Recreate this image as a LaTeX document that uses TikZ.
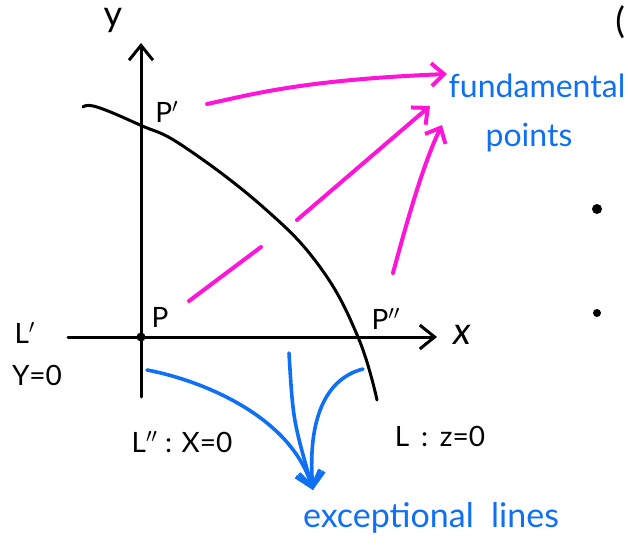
\documentclass[tikz,border=0pt]{standalone}
\usepackage{fontspec}
\setmainfont{Lato}
\usepackage{xcolor}
\usepackage{tikz}
\usetikzlibrary{arrows.meta,positioning,calc}
\definecolor{pinkish}{HTML}{FF14D8}
\definecolor{penblue}{HTML}{0F70F5}

\begin{document}
\begin{tikzpicture}[x=0.5pt,y=-0.5pt,
      every node/.style={font=\fontsize{14}{16}\selectfont,inner sep=1pt},
      axis/.style={-{Straight Barb[length=2.6mm,width=4.2mm]}, line width=1.5pt, line cap=round},
      curveline/.style={line width=1.5pt, line cap=round},
      pinkline/.style={pinkish, line width=2pt, line cap=round},
      pinkarr/.style={pinkline, -{Straight Barb[length=2.2mm,width=4mm]}},
      bluearr/.style={penblue, line width=1.8pt, line cap=round, -{Straight Barb[length=2.6mm,width=4.4mm]}},
      bluetext/.style={text=penblue,font=\fontsize{16}{18}\selectfont}
  ]
    \useasboundingbox (0,0) rectangle (628,547);

    \coordinate (ybot) at (141,397);
    \coordinate (ytip) at (141,43);
    \coordinate (xleft) at (68,337);
    \coordinate (xtip) at (437,337);
    \coordinate (P) at (141,337);

    \draw[axis] (ybot) -- (ytip);
    \draw[axis] (xleft) -- (xtip);
    \fill (P) circle (4.5);

    \draw[curveline] plot[smooth,tension=0.7] coordinates
      {(83,107) (97,107) (140,125) (183,146) (263,207) (320,267) (358,337) (377,400)};

    \node (ylab) at (113,20) {\fontsize{18}{18}\selectfont y};
    \node (xlab) at (462,335) {\fontsize{19}{19}\selectfont\itshape x};
    \node (Pone) at (167,112) {P$'$};
    \node (Pzero) at (160,317) {P};
    \node (Ptwo) at (386,319) {P$''$};
    \node (Lone) at (25,333) {L$'$};
    \node (Yzero) at (37,375) {Y=0};
    \node (Ltwo) at (182,442) {L$''$ : X=0};
    \node (Lz) at (440,436) {L \,:\, z=0};

    \node[bluetext] (fund) at (537,86) {fundamental};
    \node[bluetext] (pts) at (529,138) {points};
    \node[bluetext,font=\fontsize{17}{18}\selectfont] (exc) at (431,518) {exceptional\ \ lines};

    \coordinate (a1s) at (207,104);
    \coordinate (a1e) at (447,74);
    \coordinate (a2s) at (189,301);
    \coordinate (a2m) at (261,247);
    \coordinate (a2n) at (297,220);
    \coordinate (a2e) at (430,106);
    \coordinate (a3s) at (393,273);
    \coordinate (a3e) at (442,125);

    \draw[pinkarr] (a1s) .. controls (250,95) and (300,80) .. (a1e);
    \draw[pinkline] (a2s) -- (a2m);
    \draw[pinkarr] (a2n) -- (a2e);
    \draw[pinkarr] (a3s) .. controls (410,210) and (425,160) .. (a3e);

    \coordinate (b1s) at (147,370);
    \coordinate (b2s) at (289,353);
    \coordinate (b3s) at (363,369);
    \coordinate (btip) at (313,490);

    \draw[bluearr] (b1s) .. controls (200,380) and (290,415) .. (btip);
    \draw[bluearr] (b2s) .. controls (293,420) .. (btip);
    \draw[bluearr] (b3s) .. controls (320,380) and (308,430) .. (btip);

    \fill (597,209) circle (5);
    \fill (597,313) circle (4);
    \node[anchor=west,font=\fontsize{18}{18}\selectfont] (paren) at (613,22) {(};
  \end{tikzpicture}
\end{document}
